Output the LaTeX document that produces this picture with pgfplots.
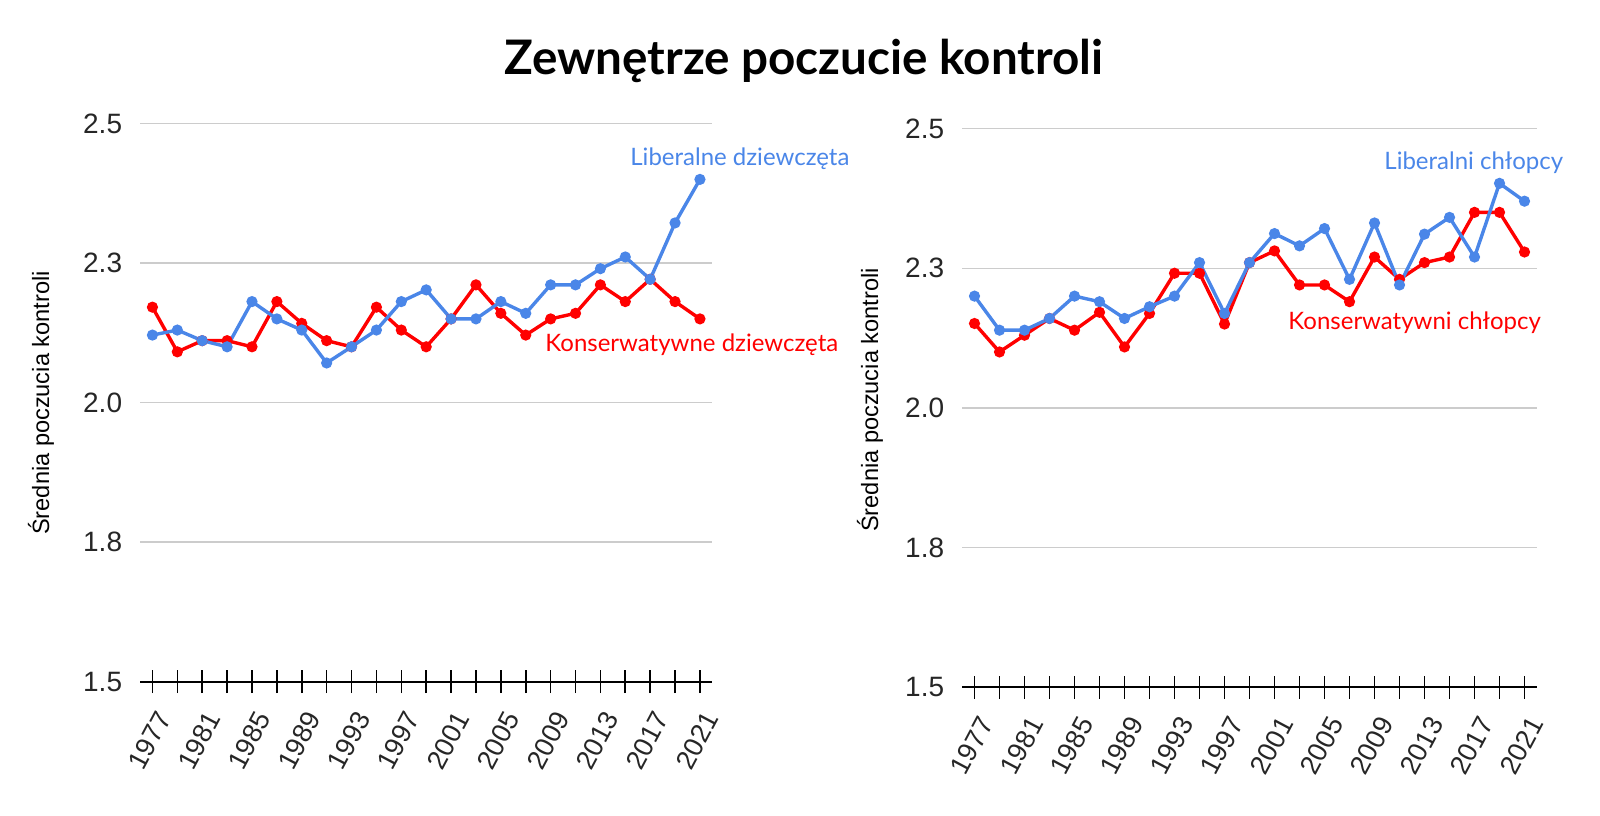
\documentclass[border=0pt]{standalone}
\usepackage{fontspec}
\setmainfont{Liberation Sans}
\newfontfamily\lato{Lato}
\usepackage{pgfplots}
\pgfplotsset{compat=1.18}
\definecolor{lib}{HTML}{4A86E8}
\definecolor{kon}{HTML}{FF0000}
\definecolor{grd}{HTML}{CCCCCC}
\pgfplotsset{
  panel/.style={
    scale only axis,
    anchor=south west,
    xmin=1976, xmax=2022,
    ymin=1.5, ymax=2.5,
    separate axis lines,
    axis x line=bottom,
    axis y line=left,
    x axis line style={-, line width=1pt, black},
    y axis line style={draw=none},
    xtick={1977,1979,...,2021},
    xticklabels={1977,,1981,,1985,,1989,,1993,,1997,,2001,,2005,,2009,,2013,,2017,,2021},
    tick align=center,
    major tick length=11.5pt,
    xtick style={line width=0.8pt, black},
    ytick style={draw=none},
    ytick={1.5,1.75,2,2.25,2.5},
    yticklabels={1.5,1.8,2.0,2.3,2.5},
    ymajorgrids,
    grid style={grd, line width=0.7pt},
    tick label style={font=\fontsize{14}{16}\selectfont, text=black!85},
    xticklabel style={font=\fontsize{13.5}{16}\selectfont, xshift=5.8pt, yshift=-10.2pt, rotate=62, anchor=east, inner sep=0pt},
    yticklabel style={anchor=east, inner sep=0pt, xshift=-3pt},
    clip=false,
  },
  lineR/.style={kon, line width=1.7pt, mark=*, mark size=1.9pt, mark options={kon}},
  lineB/.style={lib, line width=1.7pt, mark=*, mark size=1.9pt, mark options={lib}},
}
\begin{document}
\begin{tikzpicture}
\path[use as bounding box] (0,0) rectangle (800pt,407.5pt);
\node[font=\lato\bfseries\fontsize{23.8}{28}\selectfont] at (402pt,377pt) {Zewnętrze poczucie kontroli};

\begin{axis}[panel, at={(70pt,66.7pt)}, width=286.2pt, height=279pt]
\addplot[lineR] coordinates {
(1977,2.171) (1979,2.091) (1981,2.111) (1983,2.111) (1985,2.100) (1987,2.181)
(1989,2.142) (1991,2.111) (1993,2.100) (1995,2.171) (1997,2.130) (1999,2.100)
(2001,2.150) (2003,2.211) (2005,2.160) (2007,2.121) (2009,2.150) (2011,2.160)
(2013,2.211) (2015,2.181) (2017,2.221) (2019,2.181) (2021,2.150)};
\addplot[lineB] coordinates {
(1977,2.121) (1979,2.130) (1981,2.111) (1983,2.100) (1985,2.181) (1987,2.150)
(1989,2.130) (1991,2.071) (1993,2.100) (1995,2.130) (1997,2.181) (1999,2.202)
(2001,2.150) (2003,2.150) (2005,2.181) (2007,2.160) (2009,2.211) (2011,2.211)
(2013,2.240) (2015,2.261) (2017,2.221) (2019,2.322) (2021,2.400)};
\end{axis}

\begin{axis}[panel, at={(481pt,64pt)}, width=287.5pt, height=279.2pt]
\addplot[lineR] coordinates {
(1977,2.151) (1979,2.100) (1981,2.130) (1983,2.160) (1985,2.139) (1987,2.171)
(1989,2.109) (1991,2.169) (1993,2.241) (1995,2.241) (1997,2.150) (1999,2.260)
(2001,2.281) (2003,2.220) (2005,2.220) (2007,2.190) (2009,2.270) (2011,2.230)
(2013,2.260) (2015,2.270) (2017,2.350) (2019,2.350) (2021,2.279)};
\addplot[lineB] coordinates {
(1977,2.200) (1979,2.139) (1981,2.139) (1983,2.160) (1985,2.200) (1987,2.190)
(1989,2.160) (1991,2.181) (1993,2.200) (1995,2.260) (1997,2.169) (1999,2.260)
(2001,2.312) (2003,2.290) (2005,2.321) (2007,2.230) (2009,2.331) (2011,2.220)
(2013,2.311) (2015,2.341) (2017,2.270) (2019,2.402) (2021,2.370)};
\end{axis}

\node[rotate=90, font=\fontsize{11.8}{13}\selectfont] at (20.5pt,206pt) {Średnia poczucia kontroli};
\node[rotate=90, font=\fontsize{11.8}{13}\selectfont] at (435pt,207.5pt) {Średnia poczucia kontroli};

\node[anchor=base west, inner sep=0pt, text=lib, font=\lato\fontsize{12}{14}\selectfont] at (315pt,324.5pt) {Liberalne dziewczęta};
\node[anchor=base west, inner sep=0pt, text=kon, font=\lato\fontsize{12}{14}\selectfont] at (272.5pt,231.65pt) {Konserwatywne dziewczęta};
\node[anchor=base west, inner sep=0pt, text=lib, font=\lato\fontsize{12}{14}\selectfont] at (692pt,322.85pt) {Liberalni chłopcy};
\node[anchor=base west, inner sep=0pt, text=kon, font=\lato\fontsize{12}{14}\selectfont] at (644pt,242.5pt) {Konserwatywni chłopcy};
\end{tikzpicture}
\end{document}
